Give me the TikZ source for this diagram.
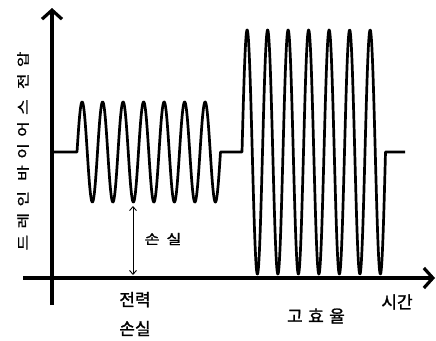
\documentclass[tikz,border=0pt]{standalone}
\usepackage{fontspec}
\newfontfamily\kr{Noto Sans CJK KR}[FakeBold=1.2]
\usetikzlibrary{arrows.meta}
\tikzset{
  axis/.style={line width=3.6pt, -{Straight Barb[length=9pt,width=20pt,line width=3.2pt]}},
  wave/.style={line width=2.7pt, line join=round},
  lbl/.style={inner sep=0pt, font=\kr\fontsize{17}{29}\selectfont},
  dim/.style={line width=0.9pt, {Straight Barb[length=4pt,width=7pt]}-{Straight Barb[length=4pt,width=7pt]}}
}
\begin{document}
\begin{tikzpicture}[x=1pt,y=-1pt]
\useasboundingbox (0,0) rectangle (436,340);
% axes
\coordinate (ybot) at (52,305);
\coordinate (ytop) at (52,8);
\coordinate (xleft) at (23,278);
\coordinate (xright) at (435,278);
\draw[axis] (ybot) -- (ytop);
\draw[axis] (xleft) -- (xright);
% waveform
\coordinate (w0) at (52,152);
\coordinate (w1) at (77,152);
\coordinate (w1e) at (220.5,152);
\coordinate (w2) at (242,152);
\coordinate (w2e) at (385.5,152);
\coordinate (w3) at (405,152);
\draw[wave] (w0) -- (w1)
  -- plot[domain=0:6.995, samples=700] ({77+20.5*\x}, {152-50*sin(360*\x)})
  -- (w1e) -- (w2)
  -- plot[domain=0:6.995, samples=700] ({242+20.5*\x}, {152-122*sin(360*\x)})
  -- (w2e) -- (w3);
% loss dimension
\coordinate (da) at (133,206);
\coordinate (db) at (133,275);
\draw[dim] (da) -- (db);
\node[lbl, font=\kr\fontsize{13.5}{16}\selectfont\addfontfeature{LetterSpace=43}] (loss) at (163,239) {\scalebox{1.2}[1]{손실}};
% labels
\node[lbl, rotate=90, font=\kr\fontsize{13}{15}\selectfont\addfontfeature{LetterSpace=38}] (ylab) at (23,151) {\scalebox{1.3}[1]{드레인 바이어스 전압}};
\node[lbl, align=center] (pl) at (135,314) {전력\\손실};
\node[lbl, font=\kr\fontsize{17}{20}\selectfont\addfontfeature{LetterSpace=32}] (he) at (316,316) {고효율};
\node[lbl] (time) at (397,302) {시간};
\end{tikzpicture}
\end{document}
